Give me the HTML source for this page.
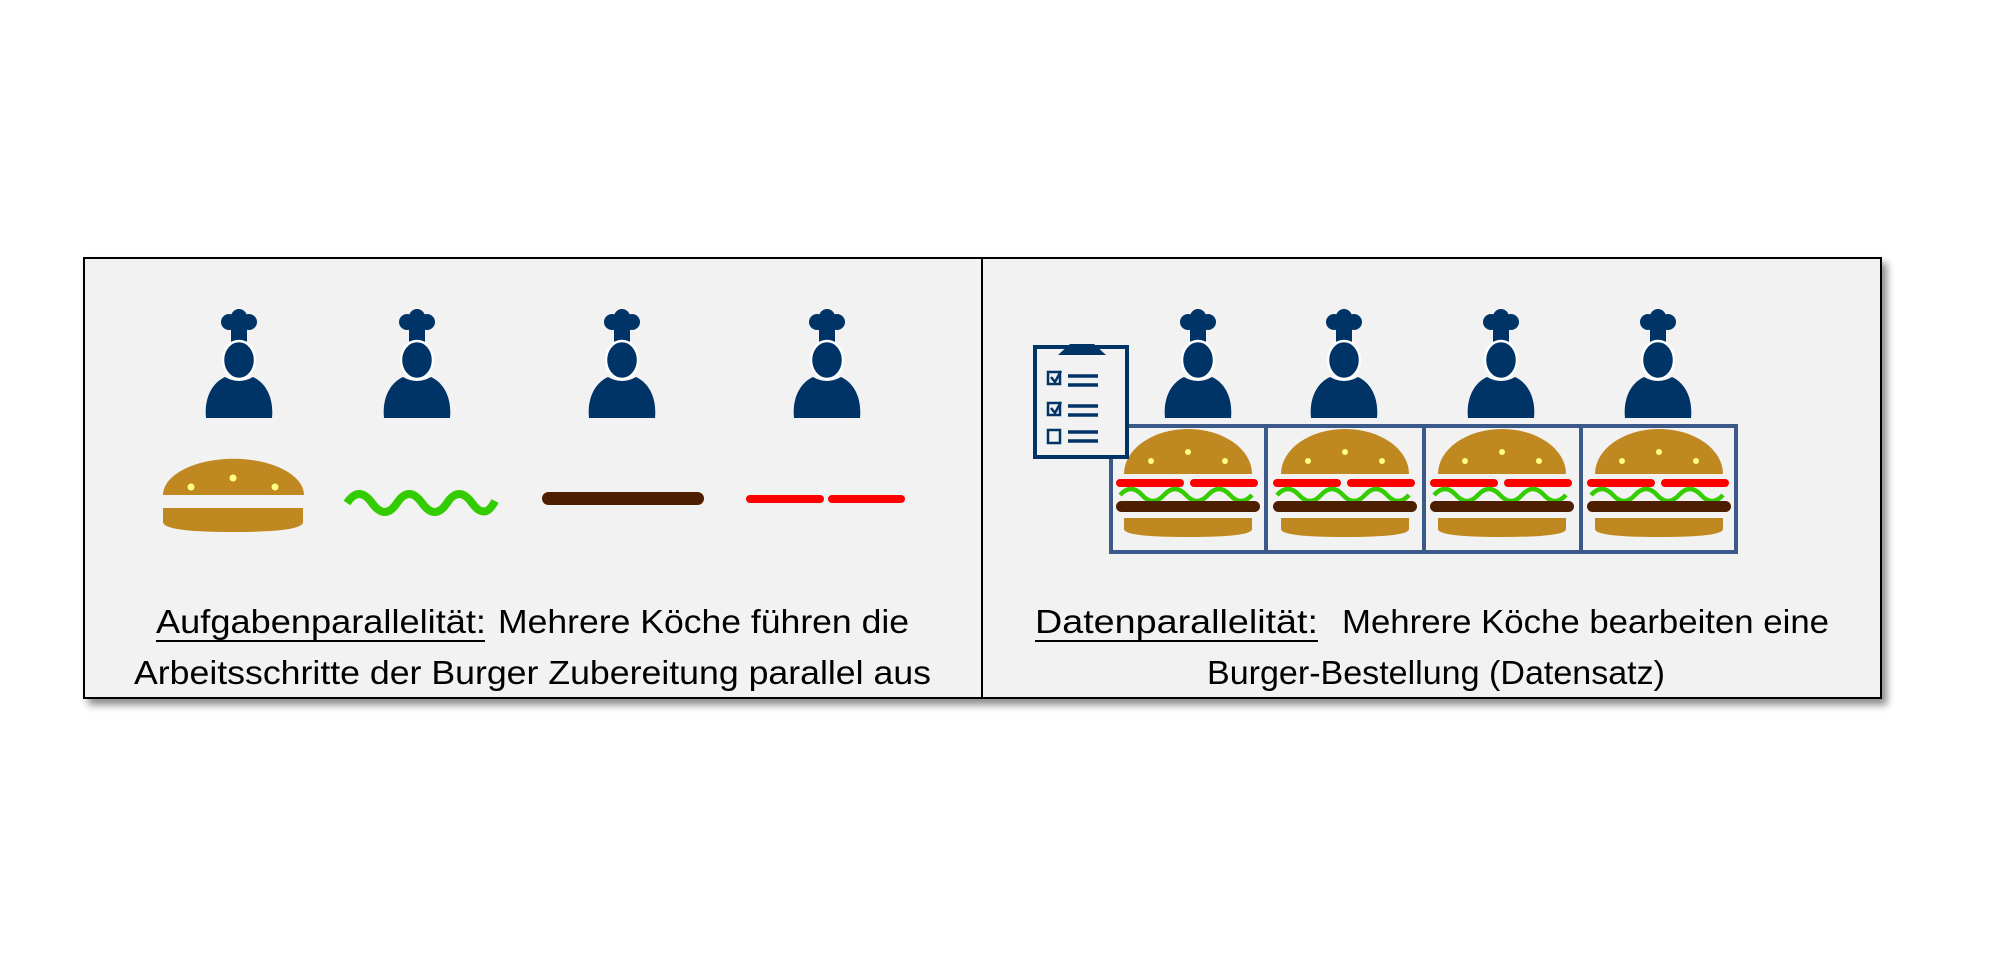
<!DOCTYPE html>
<html><head><meta charset="utf-8"><style>
html,body{margin:0;padding:0;background:#fff;}
svg{display:block;}
</style></head><body>
<svg width="2000" height="963" viewBox="0 0 2000 963" xmlns="http://www.w3.org/2000/svg">
<defs>
<filter id="sh" x="-5%" y="-5%" width="110%" height="120%"><feDropShadow dx="5" dy="6" stdDeviation="4" flood-color="#000" flood-opacity="0.45"/></filter>
<g id="chef">
<path d="M-33,108 C-35,88 -27,73 -14,67 Q0,75 14,67 C27,73 35,88 33,108 Z" fill="#003366"/>
<circle cx="-10" cy="12" r="8" fill="#003366"/>
<circle cx="10" cy="12" r="8" fill="#003366"/>
<circle cx="0" cy="7" r="8" fill="#003366"/>
<rect x="-8" y="10" width="16" height="26" fill="#003366"/>
<ellipse cx="0" cy="50" rx="16" ry="19" fill="#003366" stroke="#fff" stroke-width="2.5"/>
</g>
<g id="burger">
<path d="M-64,0 A64,45 0 0 1 64,0 Z" transform="translate(0,38)" fill="#c08820"/>
<circle cx="-37" cy="25" r="3" fill="#ffff80"/><circle cx="0" cy="16" r="3" fill="#ffff80"/><circle cx="37" cy="25" r="3" fill="#ffff80"/>
<rect x="-72" y="43" width="68" height="8" rx="4" fill="#ff0000"/>
<rect x="2" y="43" width="68" height="8" rx="4" fill="#ff0000"/>
<path d="M-68,59 q11,-12 22,0 t22,0 t22,0 t22,0 t22,0 t22,0" fill="none" stroke="#33cc00" stroke-width="4.5"/>
<rect x="-72" y="65" width="144" height="11" rx="5.5" fill="#4d1f00"/>
<path d="M-64,82 H64 V93 Q64,101 0,101 Q-64,101 -64,93 Z" fill="#c08820"/>
</g>
</defs>
<rect x="84" y="258" width="1797" height="440" fill="#f2f2f2" stroke="#000" stroke-width="2" filter="url(#sh)"/>
<line x1="982" y1="258" x2="982" y2="698" stroke="#000" stroke-width="2"/>
<use href="#chef" x="239" y="310"/>
<use href="#chef" x="417" y="310"/>
<use href="#chef" x="622" y="310"/>
<use href="#chef" x="827" y="310"/>
<path d="M163,495 A70,36 0 0 1 304,495 Z" fill="#c08820"/>
<circle cx="191" cy="487" r="3.5" fill="#ffff80"/><circle cx="233" cy="478" r="3.5" fill="#ffff80"/><circle cx="275" cy="487" r="3.5" fill="#ffff80"/>
<path d="M163,508 H303 V522 Q303,532 233,532 Q163,532 163,522 Z" fill="#c08820"/>
<path d="M347,503 q12,-18 25,0 t25,0 t25,0 t25,0 t25,0 t23,-2" fill="none" stroke="#33cc00" stroke-width="8"/>
<rect x="542" y="492" width="162" height="13" rx="6.5" fill="#4d1f00"/>
<rect x="746" y="495" width="78" height="8" rx="4" fill="#ff0000"/>
<rect x="828" y="495" width="77" height="8" rx="4" fill="#ff0000"/>
<g font-family="'Liberation Sans', sans-serif" font-size="33" fill="#000">
<text x="156" y="633" textLength="330" lengthAdjust="spacingAndGlyphs">Aufgabenparallelität:</text>
<line x1="156" y1="641" x2="485" y2="641" stroke="#000" stroke-width="2"/>
<text x="498" y="633" textLength="411" lengthAdjust="spacingAndGlyphs">Mehrere Köche führen die</text>
<text x="134" y="684" textLength="797" lengthAdjust="spacingAndGlyphs">Arbeitsschritte der Burger Zubereitung parallel aus</text>
</g>
<use href="#chef" x="1198" y="310"/>
<use href="#chef" x="1344" y="310"/>
<use href="#chef" x="1501" y="310"/>
<use href="#chef" x="1658" y="310"/>
<rect x="1111" y="426" width="625" height="126" fill="none" stroke="#3b5a8a" stroke-width="4"/>
<line x1="1266" y1="426" x2="1266" y2="552" stroke="#3b5a8a" stroke-width="4"/>
<line x1="1424" y1="426" x2="1424" y2="552" stroke="#3b5a8a" stroke-width="4"/>
<line x1="1581" y1="426" x2="1581" y2="552" stroke="#3b5a8a" stroke-width="4"/>
<use href="#burger" x="1188" y="436"/>
<use href="#burger" x="1345" y="436"/>
<use href="#burger" x="1502" y="436"/>
<use href="#burger" x="1659" y="436"/>
<rect x="1035" y="347" width="92" height="110" fill="#f2f2f2" stroke="#003366" stroke-width="4"/>
<path d="M1058,355 L1070,344 H1094 L1106,355 Z" fill="#003366"/>
<g fill="none" stroke="#003366" stroke-width="2.5">
<rect x="1048" y="372" width="12" height="12"/><path d="M1051,377 l4,5 l6,-11"/>
<rect x="1048" y="403" width="12" height="12"/><path d="M1051,408 l4,5 l6,-11"/>
<rect x="1048" y="430" width="12" height="13"/>
</g>
<g stroke="#003366" stroke-width="3.5">
<line x1="1068" y1="376" x2="1098" y2="376"/><line x1="1068" y1="385" x2="1098" y2="385"/>
<line x1="1068" y1="406" x2="1098" y2="406"/><line x1="1068" y1="415" x2="1098" y2="415"/>
<line x1="1068" y1="432" x2="1098" y2="432"/><line x1="1068" y1="441" x2="1098" y2="441"/>
</g>
<g font-family="'Liberation Sans', sans-serif" font-size="33" fill="#000">
<text x="1035" y="633" textLength="283" lengthAdjust="spacingAndGlyphs">Datenparallelität:</text>
<line x1="1035" y1="641" x2="1318" y2="641" stroke="#000" stroke-width="2"/>
<text x="1342" y="633" textLength="487" lengthAdjust="spacingAndGlyphs">Mehrere Köche bearbeiten eine</text>
<text x="1207" y="684" textLength="458" lengthAdjust="spacingAndGlyphs">Burger-Bestellung (Datensatz)</text>
</g>
</svg>
</body></html>
